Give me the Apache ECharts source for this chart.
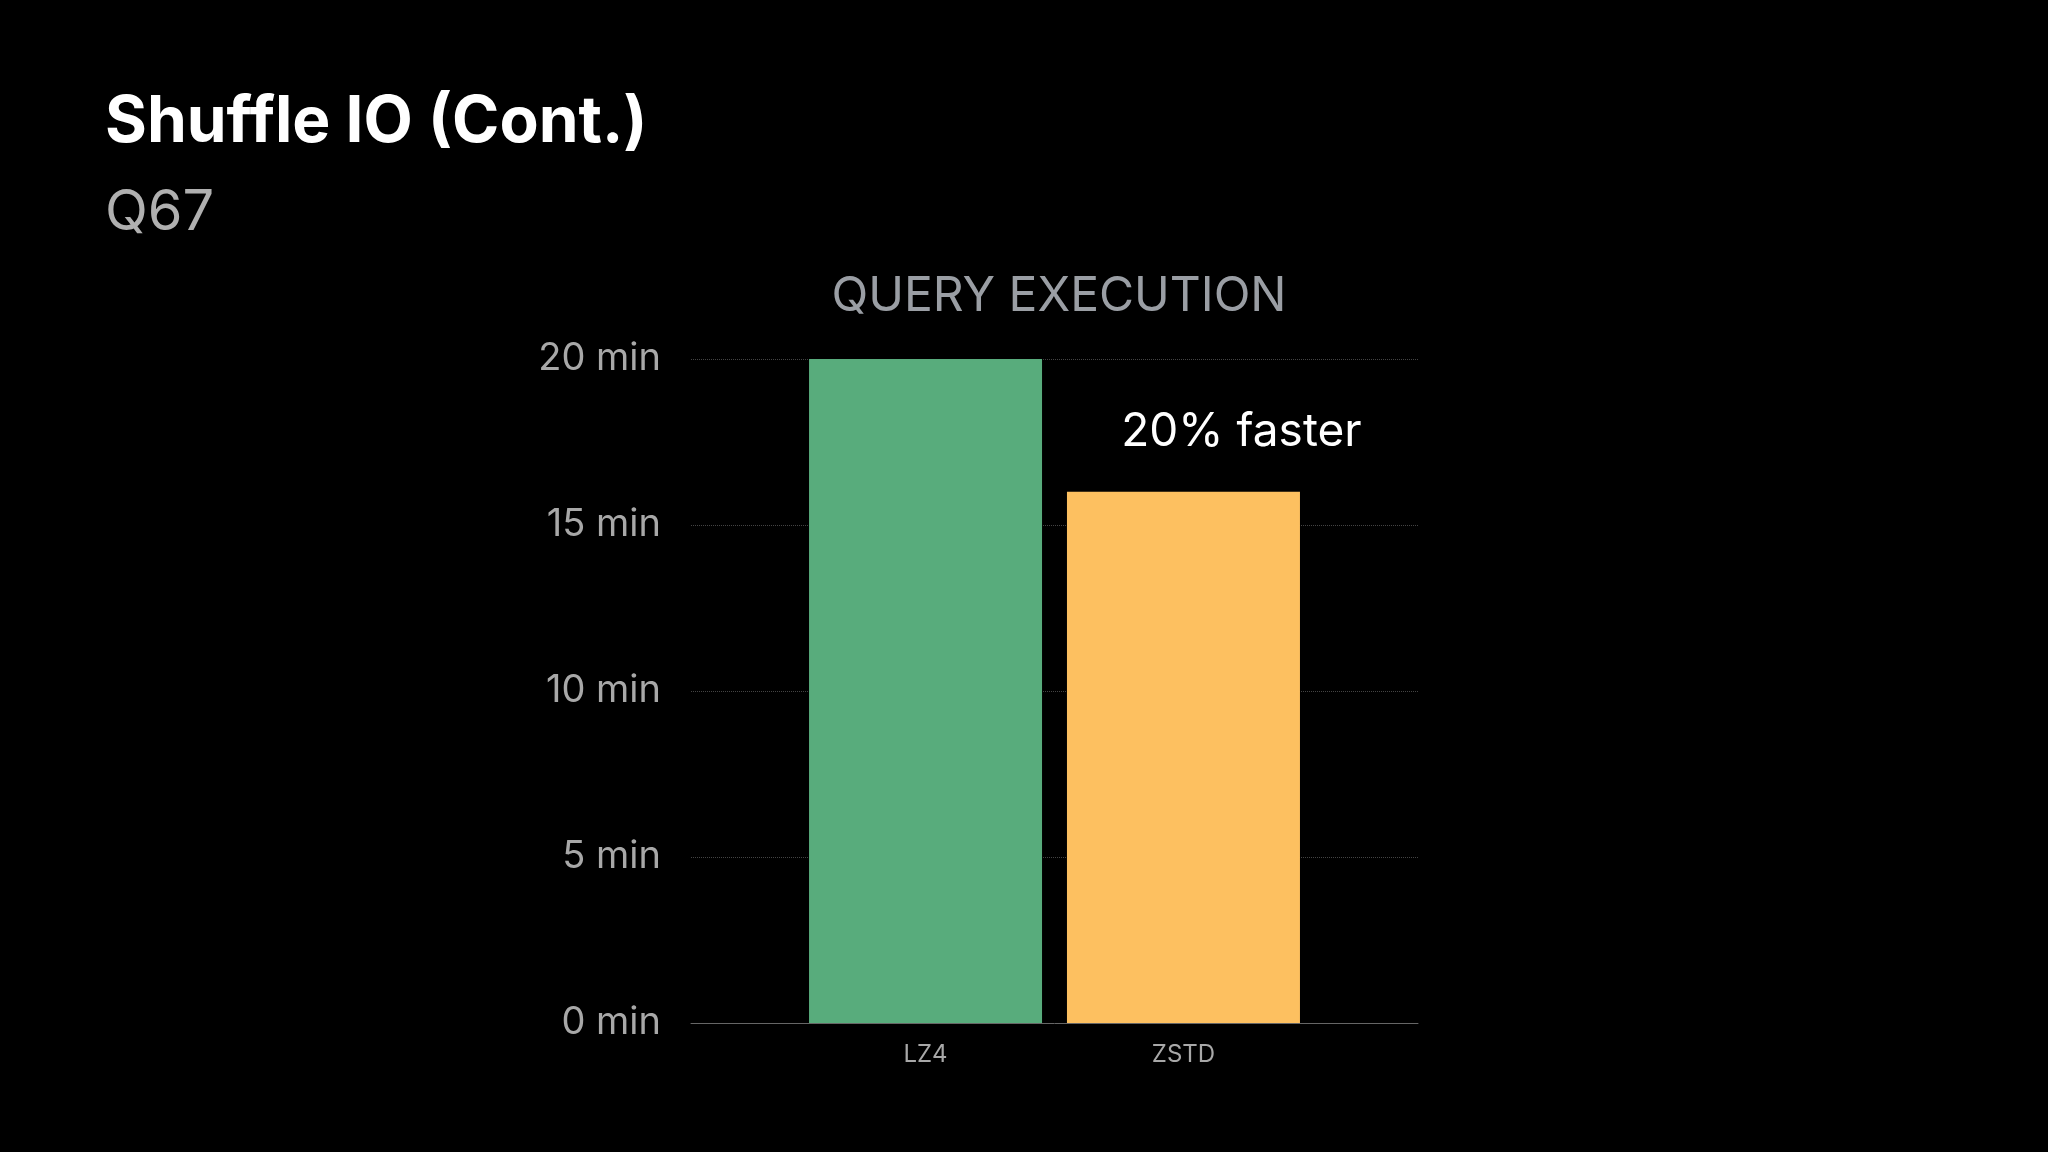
<!DOCTYPE html>
<html>
<head>
<meta charset="utf-8">
<script src="https://cdn.jsdelivr.net/npm/echarts@6/dist/echarts.min.js"></script>
<style>
html, body { margin: 0; padding: 0; background: #000; }
#main { width: 2048px; height: 1152px; }
</style>
</head>
<body>
<div id="main"></div>
<script>
var categories = ['Q67'];
var seriesNames = ['LZ4', 'ZSTD'];
var lz4Values = [20];
var zstdValues = [16];
var yTicks = [0, 5, 10, 15, 20];

var myChart = echarts.init(document.getElementById('main'));
var font = 'Inter, "Noto Sans", sans-serif';

var option = {
    backgroundColor: '#000',
    animation: false,
    title: [
        {
            text: 'Shuffle IO (Cont.)',
            left: 100, top: 86,
            textStyle: {color: '#fff', fontSize: 64, fontWeight: 'bold', fontFamily: font}
        },
        {
            text: 'Q67',
            left: 100, top: 180,
            textStyle: {color: '#b0b0b0', fontSize: 56, fontWeight: 'normal', fontFamily: font}
        },
        {
            text: 'QUERY EXECUTION',
            left: 1054, top: 268, textAlign: 'center',
            textStyle: {color: '#9a9ea4', fontSize: 48, fontWeight: 'normal', fontFamily: font}
        }
    ],
    grid: {left: 691, right: 630, top: 359, bottom: 129},
    xAxis: {
        type: 'category',
        data: categories,
        axisLine: {lineStyle: {color: '#666'}},
        axisTick: {show: false},
        axisLabel: {show: false}
    },
    yAxis: {
        type: 'value',
        min: 0, max: 20, interval: 5,
        axisLine: {show: false},
        axisTick: {show: false},
        axisLabel: {
            color: '#a8a8a8', fontSize: 38, fontFamily: font, margin: 30,
            formatter: function (v) { return yTicks.indexOf(v) >= 0 ? v + ' min' : ''; }
        },
        splitLine: {lineStyle: {color: '#444', type: 'dotted', width: 1}}
    },
    series: [
        {
            name: seriesNames[0],
            type: 'bar',
            data: lz4Values,
            barWidth: 233,
            barGap: '10.7%',
            itemStyle: {color: '#58ac7c'},
            label: {
                show: true, position: 'bottom', distance: 20,
                formatter: seriesNames[0],
                color: '#a8a8a8', fontSize: 24, fontFamily: font
            }
        },
        {
            name: seriesNames[1],
            type: 'bar',
            data: zstdValues,
            barWidth: 233,
            itemStyle: {color: '#fdc060'},
            label: {
                show: true, position: 'bottom', distance: 20,
                formatter: seriesNames[1],
                color: '#a8a8a8', fontSize: 24, fontFamily: font
            },
            markPoint: {
                symbol: 'rect', symbolSize: 1,
                itemStyle: {color: 'transparent'},
                label: {
                    show: true, formatter: '20% faster',
                    color: '#fff', fontSize: 46, fontFamily: font,
                    offset: [58, -60]
                },
                data: [{coord: [0, zstdValues[0]]}]
            }
        }
    ]
};

myChart.setOption(option);
</script>
</body>
</html>
